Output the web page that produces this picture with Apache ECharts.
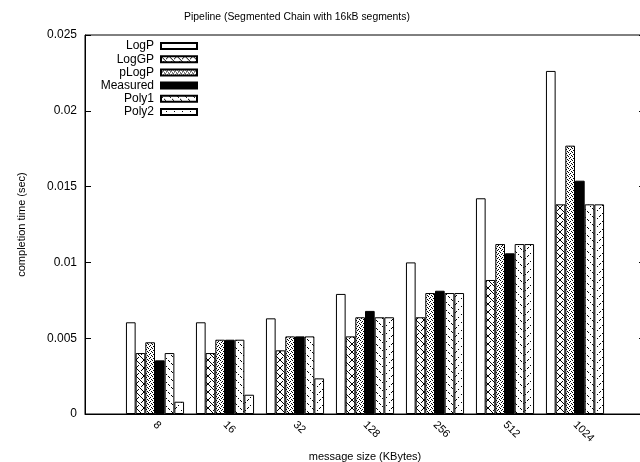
<!DOCTYPE html>
<html lang="en">
<head>
  <meta charset="UTF-8">
  <title>Pipeline (Segmented Chain with 16kB segments)</title>
  <style>
    html, body { margin: 0; padding: 0; background: #fff; }
    #chart { width: 640px; height: 462px; }
  </style>
</head>
<body>
  <div id="chart"></div>
  <script src="https://cdn.jsdelivr.net/npm/echarts@6/dist/echarts.min.js"></script>
  <script>
    // data
    var sizes = ['', '8', '16', '32', '128', '256', '512', '1024', ''];
    var logP     = [null, 0.00605, 0.00605, 0.00631, 0.00792, 0.0100, 0.01423, 0.02263, null];
    var logGP    = [null, 0.00402, 0.00402, 0.00420, 0.00512, 0.00638, 0.00884, 0.01383, null];
    var pLogP    = [null, 0.00473, 0.00490, 0.00512, 0.00638, 0.00798, 0.01121, 0.01770, null];
    var measured = [null, 0.00354, 0.00490, 0.00512, 0.00680, 0.00813, 0.01060, 0.01539, null];
    var poly1    = [null, 0.00402, 0.00490, 0.00512, 0.00638, 0.00798, 0.01121, 0.01383, null];
    var poly2    = [null, 0.00081, 0.00127, 0.00235, 0.00638, 0.00798, 0.01121, 0.01383, null];
    var yTicks = [0, 0.005, 0.01, 0.015, 0.02, 0.025];

    var FONT = "'Liberation Sans', Arial, sans-serif";

    // little fill patterns, gnuplot style
    function tile(size, draw) {
      var c = document.createElement('canvas');
      c.width = size; c.height = size;
      var ctx = c.getContext('2d');
      ctx.fillStyle = '#fff';
      ctx.fillRect(0, 0, size, size);
      ctx.fillStyle = '#000';
      draw(ctx);
      return { image: c, repeat: 'repeat' };
    }
    function px(ctx, pts) {
      for (var i = 0; i < pts.length; i++) ctx.fillRect(pts[i][0], pts[i][1], 1, 1);
    }

    var patCross = tile(8, function (ctx) {
      px(ctx, [[0,0],[1,1],[2,2],[3,3],[4,4],[5,5],[6,6],[7,7],
               [7,0],[6,1],[5,2],[2,5],[1,6],[0,7]]);
    });
    var patDots = tile(4, function (ctx) {
      px(ctx, [[0,0],[2,1],[1,2],[3,3]]);
    });
    var patBack = tile(8, function (ctx) {
      px(ctx, [[0,0],[1,1],[3,3],[4,4],[6,6]]);
    });
    var patFwd = tile(8, function (ctx) {
      px(ctx, [[7,0],[5,2],[2,5],[0,7]]);
    });

    function bar(name, data, fill) {
      return {
        name: name,
        type: 'bar',
        data: data,
        barGap: '0%',
        barCategoryGap: '17%',
        itemStyle: { color: fill, borderColor: '#000', borderWidth: 1 },
        emphasis: { disabled: true }
      };
    }

    var chart = echarts.init(document.getElementById('chart'));
    var option = {
      animation: false,
      backgroundColor: '#fff',
      textStyle: { fontFamily: FONT, color: '#000' },
      title: {
        text: 'Pipeline (Segmented Chain with 16kB segments)',
        left: 297,
        textAlign: 'center',
        top: 12,
        padding: 0,
        textStyle: { fontFamily: FONT, fontSize: 10.4, fontWeight: 'normal', color: '#000' }
      },
      legend: {
        orient: 'vertical',
        right: 442,
        top: 40,
        padding: 0,
        align: 'right',
        itemWidth: 36,
        itemHeight: 6,
        itemGap: 1.2,
        icon: 'rect',
        selectedMode: false,
        textStyle: { fontFamily: FONT, fontSize: 12, color: '#000', lineHeight: 12, padding: [0, 2, 0, 0] },
        data: ['LogP', 'LogGP', 'pLogP', 'Measured', 'Poly1', 'Poly2']
      },
      grid: {
        left: 85, top: 35, right: -5, bottom: 48,
        outerBoundsMode: 'none',
        containLabel: false,
        show: true, borderColor: '#000', borderWidth: 1
      },
      xAxis: {
        type: 'category',
        data: sizes,
        boundaryGap: false,
        name: 'message size (KBytes)',
        nameLocation: 'middle',
        nameGap: 29,
        nameTextStyle: { fontFamily: FONT, fontSize: 11, color: '#000' },
        axisLine: { lineStyle: { color: '#000' } },
        axisTick: { show: false },
        axisLabel: { rotate: -45, margin: 9, fontFamily: FONT, fontSize: 11, color: '#000' },
        splitLine: { show: false }
      },
      yAxis: [{
        type: 'value',
        min: yTicks[0],
        max: yTicks[yTicks.length - 1],
        interval: yTicks[1] - yTicks[0],
        name: 'completion time (sec)',
        nameLocation: 'middle',
        nameGap: 58,
        nameTextStyle: { fontFamily: FONT, fontSize: 11, color: '#000' },
        axisLine: { show: true, lineStyle: { color: '#000' } },
        axisTick: { show: true, inside: true, length: 6, lineStyle: { color: '#000' } },
        axisLabel: { margin: 8, fontFamily: FONT, fontSize: 12, color: '#000' },
        splitLine: { show: false }
      }, {
        type: 'value',
        position: 'right',
        min: yTicks[0],
        max: yTicks[yTicks.length - 1],
        interval: yTicks[1] - yTicks[0],
        axisLine: { show: true, lineStyle: { color: '#000' } },
        axisTick: { show: true, inside: true, length: 6, lineStyle: { color: '#000' } },
        axisLabel: { show: false },
        splitLine: { show: false }
      }],
      series: [
        bar('LogP', logP, '#fff'),
        bar('LogGP', logGP, patCross),
        bar('pLogP', pLogP, patDots),
        bar('Measured', measured, '#000'),
        bar('Poly1', poly1, patBack),
        bar('Poly2', poly2, patFwd)
      ]
    };
    chart.setOption(option);
  </script>
</body>
</html>
